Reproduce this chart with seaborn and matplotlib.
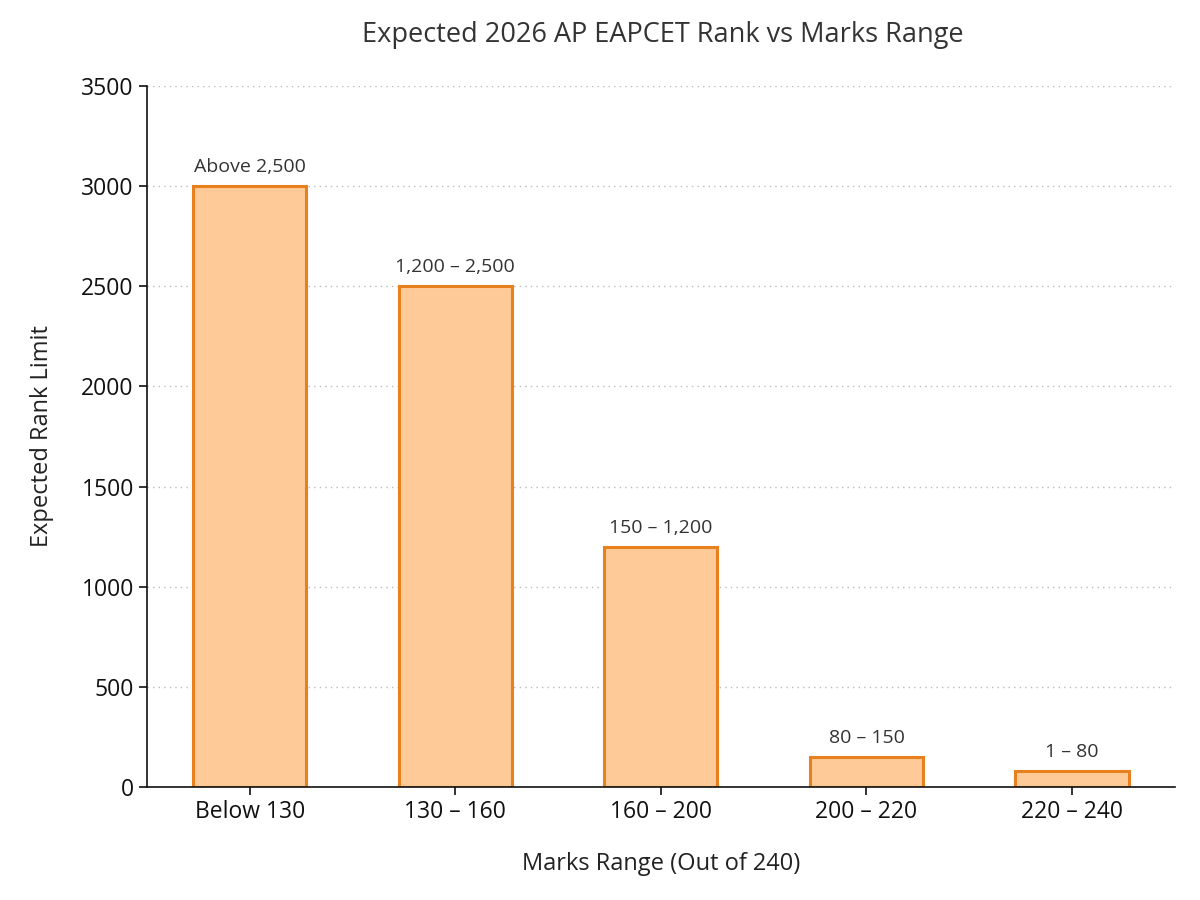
import matplotlib
matplotlib.use("Agg")
import matplotlib.pyplot as plt
import seaborn as sns
import pandas as pd

categories = ["Below 130", "130 – 160", "160 – 200", "200 – 220", "220 – 240"]
rank_limits = [3000, 2500, 1200, 150, 80]
bar_labels = ["Above 2,500", "1,200 – 2,500", "150 – 1,200", "80 – 150", "1 – 80"]

sns.set_theme(style="white")
plt.rcParams['font.family'] = ['Open Sans', 'DejaVu Sans']

df = pd.DataFrame({"Marks": categories, "Rank": rank_limits})

fig = plt.figure(figsize=(12, 9), dpi=100)
ax = fig.add_axes([0.1225, 0.1256, 0.8565, 0.7788])

sns.barplot(data=df, x="Marks", y="Rank", ax=ax, color="#FECB98",
            edgecolor="#E8801E", linewidth=2.2, width=0.55, saturation=1)

for i, (v, lab) in enumerate(zip(rank_limits, bar_labels)):
    ax.text(i, v + 50, lab, ha="center", va="bottom", fontsize=14, color="#333333")

ax.set_ylim(0, 3500)
ax.set_xlim(-0.5, 4.5)
ax.set_yticks(range(0, 3501, 500))
ax.yaxis.grid(True, linestyle=(0, (1, 3)), color="#BBBBBB", linewidth=1.0)
ax.set_axisbelow(True)
for s in ["top", "right"]:
    ax.spines[s].set_visible(False)
for s in ["left", "bottom"]:
    ax.spines[s].set_color("#111111")
    ax.spines[s].set_linewidth(1.2)
ax.tick_params(axis="both", which="both", length=6, width=1.2, color="#111111",
               labelsize=16.5, labelcolor="#111111", left=True, bottom=True)

ax.set_xlabel("Marks Range (Out of 240)", fontsize=17, color="#222222", labelpad=20)
ax.set_ylabel("Expected Rank Limit", fontsize=17, color="#222222", labelpad=20)
fig.suptitle("Expected 2026 AP EAPCET Rank vs Marks Range", fontsize=19.5,
             color="#333333", x=0.5525, y=0.977)

fig.savefig("out.png", dpi=100)
